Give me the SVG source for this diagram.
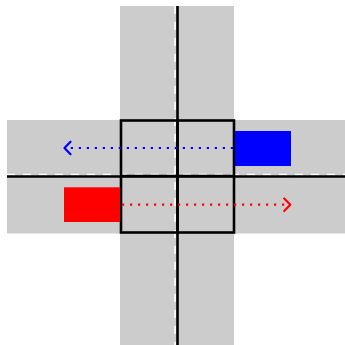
<svg xmlns="http://www.w3.org/2000/svg" width="345" height="345" viewBox="0 0 345 345">
<style>
.road{fill:#cccccc}
.dash{stroke:#ffffff;stroke-width:1.6;stroke-dasharray:8 8;fill:none}
.center{stroke:#000000;stroke-width:2.6;fill:none}
.box{stroke:#000000;stroke-width:2.6;fill:none}
.path{stroke-width:2.2;stroke-dasharray:2.2 5.8;fill:none}
.head{stroke-width:2.2;fill:none;stroke-linecap:round;stroke-linejoin:round}
</style>
<rect width="345" height="345" fill="#ffffff"/>
<g id="roads">
<rect class="road" x="120" y="6" width="114" height="339"/>
<rect class="road" x="7" y="120" width="338" height="113.5"/>
<line class="dash" x1="7" y1="174.5" x2="345" y2="174.5"/>
<line class="dash" x1="175" y1="6" x2="175" y2="345"/>
<line class="center" x1="7" y1="176.5" x2="345" y2="176.5"/>
<line class="center" x1="177.5" y1="6" x2="177.5" y2="345"/>
</g>
<g id="intersection">
<rect class="box" x="121" y="120.5" width="113" height="112"/>
<line class="box" x1="121" y1="176" x2="234" y2="176"/>
<line class="box" x1="177.5" y1="120.5" x2="177.5" y2="232.5"/>
</g>
<g id="blue-car"><rect x="235" y="131" width="56" height="35" fill="#0000ff"/></g>
<g id="red-car"><rect x="64" y="187.3" width="56" height="34.7" fill="#ff0000"/></g>
<g id="connectors">
<line class="path" stroke="#0000ff" x1="233" y1="148" x2="66" y2="148"/>
<polyline class="head" stroke="#0000ff" points="70.5,141.7 64.5,148 70.5,154.3"/>
<line class="path" stroke="#ff0000" x1="122" y1="204.7" x2="289" y2="204.7"/>
<polyline class="head" stroke="#ff0000" points="284.2,198.5 290.3,204.7 284.2,211"/>
</g>
</svg>
